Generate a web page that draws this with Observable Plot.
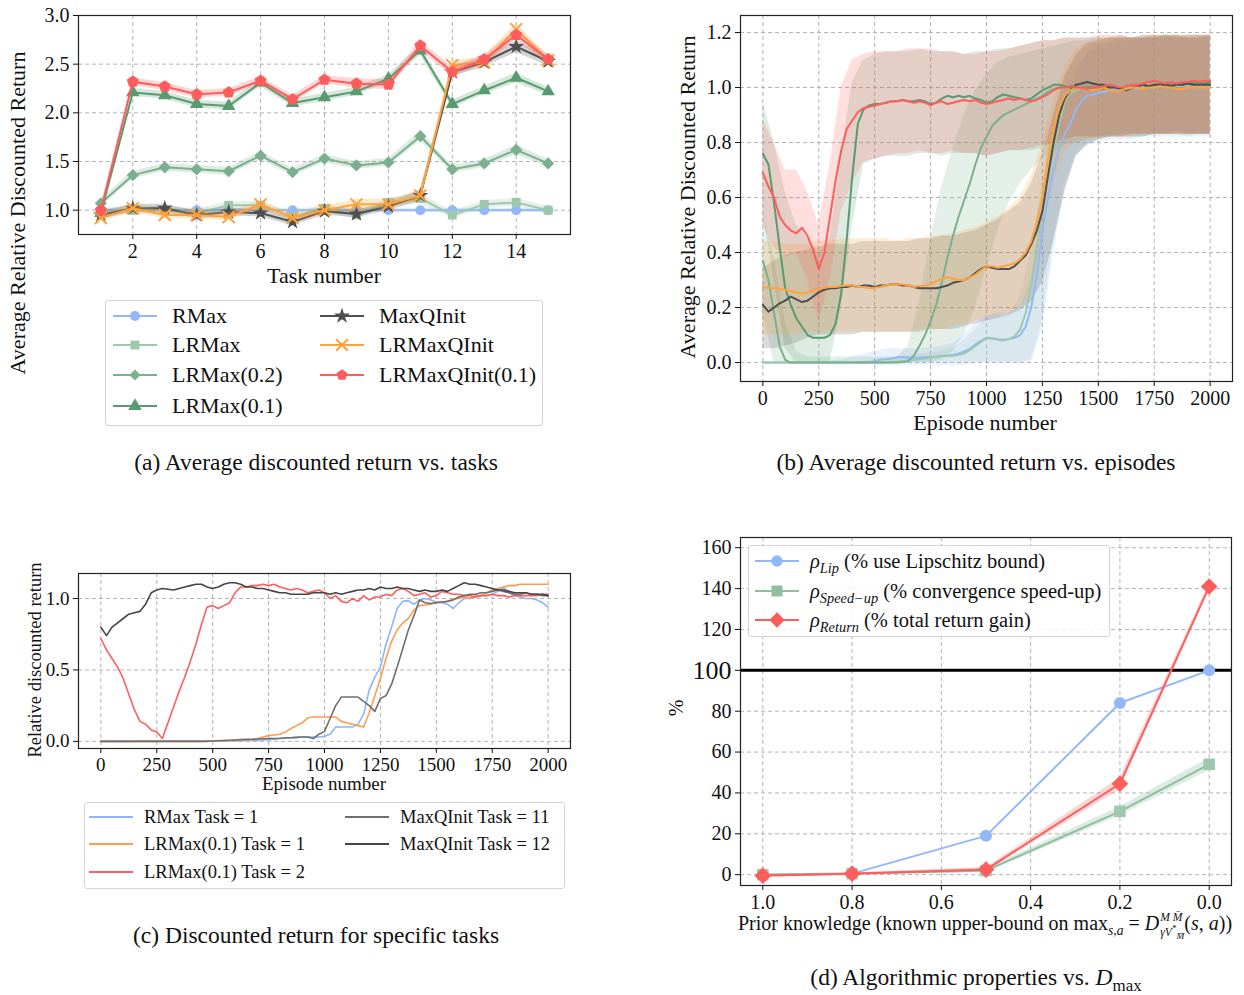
<!DOCTYPE html>
<html><head><meta charset="utf-8">
<script src="https://cdn.jsdelivr.net/npm/d3@7"></script>
<script src="https://cdn.jsdelivr.net/npm/@observablehq/plot@0.6"></script>
<style>
body{margin:0;background:#fff;font-family:"Liberation Serif","Times New Roman",serif;color:#111}
#root{position:relative;width:1244px;height:995px;overflow:hidden;background:#fff}
.abs{position:absolute}
.lbl{position:absolute;white-space:nowrap;transform:translate(-50%,-50%);line-height:1.2}
.ylbl{position:absolute;white-space:nowrap;transform:translate(-50%,-50%) rotate(-90deg)}
.legend{position:absolute;border:1.5px solid #d4d4d4;border-radius:3px;background:rgba(255,255,255,0.85);box-sizing:border-box}
.li{position:absolute;white-space:nowrap;display:flex;align-items:center;transform:translateY(-50%)}
sub,sup{line-height:0}
</style></head><body><div id="root"></div>
<script>
// ---------------- Panel (a): average discounted return vs tasks ----------------
const tasks = [1,2,3,4,5,6,7,8,9,10,11,12,13,14,15];
const aRMax        = [1.0,1.0,1.0,1.0,1.0,1.0,1.0,1.0,1.0,1.0,1.0,1.0,1.0,1.0,1.0];
const aLRMax       = [0.97,1.0,1.0,0.97,1.05,1.05,0.93,1.02,0.95,1.08,1.12,0.95,1.06,1.08,1.0];
const aLRMax02     = [1.07,1.36,1.44,1.42,1.40,1.56,1.39,1.53,1.46,1.49,1.76,1.42,1.48,1.62,1.48];
const aLRMax01     = [0.97,2.21,2.18,2.09,2.07,2.31,2.10,2.16,2.22,2.35,2.64,2.09,2.23,2.36,2.22];
const aMaxQInit    = [0.95,1.02,1.02,0.95,0.98,0.97,0.88,0.99,0.96,1.04,1.15,2.42,2.52,2.68,2.53];
const aLRMaxQInit  = [0.92,1.02,0.95,0.95,0.93,1.06,0.92,1.0,1.06,1.06,1.15,2.49,2.52,2.86,2.54];
const aLRMaxQInit01= [1.0,2.32,2.27,2.19,2.21,2.33,2.14,2.34,2.30,2.29,2.69,2.42,2.55,2.80,2.55];
const aErrRMax        = [0.02,0.02,0.02,0.02,0.02,0.02,0.02,0.02,0.02,0.02,0.02,0.02,0.02,0.02,0.02];
const aErrLRMax       = [0.04,0.04,0.04,0.04,0.04,0.04,0.04,0.04,0.04,0.04,0.05,0.04,0.04,0.04,0.04];
const aErrLRMax02     = [0.04,0.04,0.04,0.04,0.04,0.04,0.04,0.04,0.04,0.04,0.05,0.04,0.04,0.05,0.04];
const aErrLRMax01     = [0.04,0.04,0.04,0.04,0.04,0.04,0.04,0.04,0.04,0.04,0.05,0.04,0.04,0.05,0.04];
const aErrMaxQInit    = [0.04,0.04,0.04,0.04,0.04,0.04,0.04,0.04,0.04,0.04,0.06,0.05,0.05,0.06,0.05];
const aErrLRMaxQInit  = [0.04,0.04,0.04,0.04,0.04,0.04,0.04,0.04,0.05,0.05,0.05,0.05,0.05,0.06,0.05];
const aErrLRMaxQInit01= [0.04,0.04,0.04,0.04,0.04,0.04,0.04,0.04,0.05,0.05,0.05,0.05,0.05,0.05,0.05];
const aTicksX = [2,4,6,8,10,12,14];
const aTicksY = [1.0,1.5,2.0,2.5,3.0];

// ---------------- Panel (b): average discounted return vs episodes ----------------
const epL = [0,25,50,75,100,125,150,175,200,225,
  250,275,300,325,350,375,400,425,450,475,
  500,525,550,575,600,625,650,675,700,725,
  750,775,800,825,850,875,900,925,950,975,
  1000,1025,1050,1075,1100,1125,1150,1175,1200,1225,
  1250,1275,1300,1325,1350,1375,1400,1425,1450,1475,
  1500,1525,1550,1575,1600,1625,1650,1675,1700,1725,
  1750,1775,1800,1825,1850,1875,1900,1925,1950,1975,
  2000];
const bRMax = [0,0,0,0,0,0,0,0,0,0,
  0,0,0,0,0,0,0,0,0,0,
  0.005,0.01,0.012,0.015,0.018,0.02,0.018,0.017,0.018,0.02,
  0.02,0.022,0.025,0.026,0.028,0.032,0.04,0.05,0.065,0.08,
  0.09,0.088,0.085,0.083,0.085,0.09,0.10,0.13,0.20,0.32,
  0.48,0.60,0.70,0.78,0.83,0.87,0.92,0.95,0.97,0.975,
  0.98,0.985,0.99,0.99,0.99,0.995,1.0,0.995,1.0,1.0,
  1.0,1.005,1.0,1.005,1.01,1.005,1.01,1.01,1.01,1.01,
  1.01];
const bLRMax = [0,0,0,0,0,0,0,0,0,0,
  0,0,0,0,0,0,0,0,0,0,
  0,0,0,0.002,0.004,0.006,0.008,0.01,0.012,0.015,
  0.018,0.02,0.022,0.024,0.025,0.028,0.032,0.045,0.06,0.075,
  0.088,0.087,0.083,0.08,0.085,0.095,0.12,0.18,0.28,0.42,
  0.56,0.67,0.77,0.87,0.95,0.98,0.99,1.0,1.0,0.995,
  1.0,1.0,0.995,1.0,1.005,1.0,1.0,1.005,1.0,1.005,
  1.01,1.005,1.01,1.01,1.005,1.01,1.01,1.015,1.01,1.01,
  1.01];
const bLRMax02 = [0.37,0.30,0.18,0.06,0.01,0,0,0,0,0,
  0,0,0,0,0,0,0,0,0,0,
  0,0,0,0,0,0.002,0.005,0.025,0.06,0.10,
  0.15,0.21,0.29,0.38,0.46,0.53,0.59,0.65,0.72,0.78,
  0.82,0.86,0.88,0.90,0.91,0.92,0.93,0.94,0.95,0.96,
  0.97,0.985,0.995,1.0,1.0,1.005,1.0,1.0,1.005,1.0,
  1.0,1.005,1.01,1.005,1.0,1.0,1.005,1.01,1.01,1.005,
  1.01,1.015,1.01,1.01,1.015,1.01,1.015,1.02,1.015,1.015,
  1.015];
const bLRMax01 = [0.76,0.72,0.58,0.42,0.27,0.21,0.16,0.13,0.10,0.09,
  0.09,0.09,0.10,0.14,0.25,0.45,0.68,0.87,0.92,0.935,
  0.94,0.94,0.945,0.95,0.95,0.955,0.95,0.95,0.955,0.95,
  0.94,0.945,0.96,0.97,0.965,0.97,0.965,0.97,0.96,0.955,
  0.945,0.95,0.965,0.975,0.97,0.965,0.96,0.955,0.96,0.975,
  0.99,1.0,1.01,1.01,1.005,1.0,1.005,1.0,1.0,1.0,
  1.0,0.995,1.0,1.005,0.995,0.99,1.0,1.005,1.01,1.0,
  1.01,1.01,1.015,1.01,1.015,1.01,1.02,1.015,1.015,1.015,
  1.02];
const bMaxQInit = [0.21,0.185,0.20,0.215,0.225,0.24,0.23,0.22,0.225,0.24,
  0.255,0.265,0.27,0.27,0.275,0.275,0.28,0.275,0.28,0.28,
  0.275,0.28,0.28,0.285,0.285,0.28,0.28,0.275,0.27,0.27,
  0.27,0.27,0.275,0.28,0.29,0.295,0.30,0.31,0.325,0.34,
  0.35,0.345,0.34,0.34,0.34,0.35,0.37,0.39,0.43,0.48,
  0.55,0.68,0.80,0.90,0.96,0.99,1.01,1.015,1.02,1.015,
  1.01,1.01,1.0,1.0,0.995,0.99,1.0,1.005,1.01,1.005,
  1.01,1.01,1.01,1.005,1.01,1.01,1.015,1.01,1.01,1.01,
  1.01];
const bLRMaxQInit = [0.275,0.272,0.27,0.268,0.265,0.26,0.255,0.25,0.255,0.265,
  0.27,0.272,0.275,0.275,0.278,0.28,0.28,0.275,0.275,0.27,
  0.272,0.275,0.28,0.285,0.285,0.285,0.28,0.275,0.278,0.28,
  0.285,0.295,0.305,0.31,0.305,0.30,0.30,0.31,0.32,0.335,
  0.35,0.35,0.345,0.35,0.355,0.36,0.375,0.40,0.44,0.51,
  0.60,0.74,0.85,0.93,0.97,0.99,1.0,1.0,0.995,0.99,
  0.995,1.0,0.99,0.985,0.99,0.995,1.0,1.0,0.995,1.0,
  1.0,1.005,1.0,1.0,0.995,0.995,1.0,1.0,1.0,1.0,
  1.0];
const bLRMaxQInit01 = [0.69,0.64,0.60,0.53,0.50,0.48,0.47,0.49,0.46,0.41,
  0.34,0.40,0.53,0.66,0.77,0.85,0.88,0.91,0.925,0.93,
  0.935,0.94,0.945,0.95,0.95,0.955,0.95,0.945,0.95,0.945,
  0.935,0.945,0.95,0.94,0.945,0.95,0.955,0.95,0.955,0.945,
  0.94,0.945,0.95,0.955,0.96,0.955,0.96,0.955,0.95,0.955,
  0.965,0.975,0.99,1.0,1.0,1.005,1.0,1.0,0.995,1.0,
  1.0,1.005,1.01,1.005,1.0,1.005,1.01,1.01,1.015,1.02,
  1.025,1.02,1.015,1.02,1.015,1.02,1.02,1.025,1.02,1.025,
  1.025];
// confidence bands (every 50 episodes)
const epB = [0,50,100,150,200,250,300,350,400,450,
  500,550,600,650,700,750,800,850,900,950,
  1000,1050,1100,1150,1200,1250,1300,1350,1400,1450,
  1500,1550,1600,1650,1700,1750,1800,1850,1900,1950,
  2000];
const bRMaxLo = [0,0,0,0,0,0,0,0,0,0,
  -0.01,-0.01,-0.01,-0.01,-0.01,-0.01,-0.01,-0.01,-0.01,0,
  0,0,0,0,0,0.12,0.40,0.63,0.75,0.79,
  0.80,0.81,0.81,0.81,0.82,0.82,0.82,0.82,0.82,0.82,
  0.82];
const bRMaxHi = [0,0,0,0,0,0,0.005,0.01,0.02,0.03,
  0.04,0.05,0.05,0.05,0.05,0.055,0.06,0.07,0.10,0.14,
  0.17,0.18,0.18,0.20,0.30,0.52,0.78,0.95,1.06,1.12,
  1.15,1.16,1.17,1.17,1.18,1.18,1.18,1.18,1.18,1.18,
  1.18];
const bLRMaxLo = [0,0,0,0,0,0,0,0,0,0,
  0,0,0,0,0,0,0,0,0,0,
  0,0,0,0,0.01,0.15,0.45,0.65,0.76,0.80,
  0.81,0.82,0.82,0.82,0.82,0.83,0.83,0.83,0.82,0.83,
  0.83];
const bLRMaxHi = [0,0,0,0,0,0,0,0,0,0.005,
  0.01,0.015,0.02,0.025,0.03,0.035,0.04,0.05,0.08,0.12,
  0.16,0.17,0.17,0.24,0.40,0.66,0.90,1.04,1.11,1.15,
  1.16,1.17,1.18,1.18,1.18,1.18,1.19,1.18,1.18,1.18,
  1.18];
const bLRMax02Lo = [0.18,0,0,0,0,0,0,0,0,0,
  0,0,0,0,0,0,0.01,0.04,0.10,0.20,
  0.34,0.48,0.58,0.65,0.70,0.74,0.77,0.79,0.80,0.81,
  0.82,0.82,0.82,0.83,0.83,0.83,0.83,0.83,0.83,0.83,
  0.83];
const bLRMax02Hi = [0.55,0.38,0.15,0.04,0.02,0.02,0.02,0.02,0.02,0.02,
  0.02,0.02,0.02,0.06,0.22,0.45,0.64,0.78,0.90,0.99,
  1.05,1.09,1.11,1.12,1.13,1.14,1.15,1.16,1.17,1.17,
  1.18,1.18,1.18,1.18,1.18,1.19,1.19,1.18,1.19,1.19,
  1.19];
const bLRMax01Lo = [0.55,0.30,0.05,0,0,0,0,0.20,0.50,0.72,
  0.74,0.75,0.75,0.75,0.76,0.76,0.75,0.76,0.76,0.76,
  0.75,0.76,0.77,0.77,0.77,0.78,0.80,0.81,0.82,0.82,
  0.82,0.82,0.83,0.83,0.83,0.83,0.83,0.84,0.83,0.83,
  0.83];
const bLRMax01Hi = [0.95,0.80,0.62,0.50,0.45,0.40,0.45,0.75,1.02,1.10,
  1.12,1.13,1.13,1.13,1.14,1.13,1.13,1.13,1.12,1.13,
  1.13,1.14,1.14,1.15,1.16,1.17,1.17,1.18,1.18,1.18,
  1.18,1.18,1.19,1.18,1.19,1.19,1.19,1.19,1.19,1.19,
  1.19];
const bMaxQInitLo = [0.05,0.05,0.06,0.07,0.09,0.10,0.10,0.10,0.10,0.11,
  0.11,0.11,0.11,0.11,0.11,0.12,0.12,0.12,0.13,0.14,
  0.15,0.16,0.17,0.19,0.22,0.29,0.44,0.62,0.75,0.79,
  0.81,0.82,0.82,0.82,0.82,0.83,0.83,0.83,0.83,0.83,
  0.83];
const bMaxQInitHi = [0.34,0.37,0.39,0.40,0.41,0.42,0.43,0.43,0.43,0.44,
  0.44,0.44,0.44,0.44,0.45,0.45,0.46,0.46,0.47,0.48,
  0.50,0.52,0.55,0.58,0.65,0.76,0.90,1.04,1.12,1.16,
  1.17,1.18,1.18,1.18,1.18,1.18,1.19,1.19,1.18,1.18,
  1.19];
const bLRMaxQInitLo = [0.10,0.10,0.10,0.10,0.11,0.11,0.11,0.11,0.11,0.11,
  0.11,0.11,0.11,0.11,0.12,0.12,0.12,0.13,0.14,0.15,
  0.16,0.17,0.18,0.20,0.26,0.45,0.66,0.77,0.80,0.81,
  0.81,0.82,0.82,0.82,0.83,0.83,0.83,0.83,0.83,0.83,
  0.83];
const bLRMaxQInitHi = [0.44,0.44,0.43,0.43,0.43,0.44,0.44,0.45,0.45,0.45,
  0.45,0.45,0.44,0.45,0.45,0.46,0.46,0.47,0.48,0.49,
  0.51,0.53,0.56,0.60,0.68,0.80,0.95,1.08,1.14,1.16,
  1.17,1.18,1.18,1.18,1.18,1.19,1.19,1.19,1.18,1.19,
  1.19];
const bLRMaxQInit01Lo = [0.50,0.42,0.38,0.40,0.30,0.15,0.30,0.55,0.65,0.73,
  0.74,0.75,0.76,0.76,0.77,0.76,0.76,0.77,0.76,0.76,
  0.75,0.76,0.77,0.77,0.78,0.79,0.80,0.81,0.82,0.82,
  0.82,0.83,0.82,0.83,0.83,0.83,0.83,0.83,0.83,0.83,
  0.83];
const bLRMaxQInit01Hi = [0.88,0.80,0.70,0.70,0.62,0.50,0.72,1.00,1.10,1.12,
  1.13,1.13,1.13,1.14,1.14,1.14,1.13,1.13,1.12,1.12,
  1.13,1.13,1.14,1.15,1.16,1.17,1.17,1.18,1.18,1.18,
  1.19,1.19,1.19,1.18,1.19,1.19,1.18,1.19,1.19,1.19,
  1.19];
const epTicks = [0,250,500,750,1000,1250,1500,1750,2000];
const bTicksY = [0,0.2,0.4,0.6,0.8,1.0,1.2];

// ---------------- Panel (c): discounted return for specific tasks ----------------
const cRMaxT1 = [0,0,0,0,0,0,0.002,0.002,0.003,0.003,
  0.003,0.003,0.003,0.003,0.002,0.002,0.002,0.002,0.002,0.002,
  0.002,0.003,0.003,0.004,0.005,0.005,0.006,0.006,0.008,0.01,
  0.012,0.015,0.02,0.022,0.025,0.028,0.03,0.03,0.03,0.03,
  0.035,0.05,0.10,0.10,0.10,0.10,0.12,0.19,0.36,0.45,
  0.52,0.68,0.80,0.93,0.98,0.985,0.96,0.99,1.0,0.99,
  0.975,0.97,0.96,0.93,0.97,1.0,1.0,1.01,1.02,1.02,
  1.03,1.05,1.08,1.04,1.02,1.01,1.0,1.0,0.99,0.97,
  0.94];
const cLRMax01T1 = [0,0,0,0,0,0,0,0,0,0,
  0,0,0,0,0,0,0,0,0,0.002,
  0.003,0.004,0.005,0.006,0.007,0.008,0.01,0.012,0.02,0.03,
  0.04,0.045,0.05,0.065,0.09,0.11,0.13,0.165,0.17,0.17,
  0.17,0.17,0.17,0.14,0.13,0.12,0.11,0.10,0.20,0.32,
  0.44,0.58,0.70,0.78,0.83,0.86,0.92,0.95,0.955,0.96,
  0.975,0.975,0.98,0.995,1.0,1.01,1.0,1.02,1.02,1.04,
  1.06,1.07,1.08,1.09,1.09,1.10,1.10,1.10,1.10,1.10,
  1.10];
const cLRMax01T2 = [0.72,0.64,0.58,0.52,0.44,0.33,0.22,0.14,0.12,0.08,
  0.065,0.02,0.13,0.24,0.35,0.45,0.56,0.68,0.82,0.94,
  0.95,0.93,0.95,0.97,1.04,1.08,1.08,1.09,1.09,1.10,
  1.09,1.10,1.08,1.07,1.06,1.07,1.06,1.04,1.05,1.06,
  1.04,1.00,1.02,0.98,0.97,1.00,0.98,1.02,0.99,1.01,
  1.01,1.03,1.02,1.06,1.07,1.05,1.02,1.03,1.04,1.01,
  1.02,1.05,1.04,1.03,1.03,1.02,1.02,1.01,1.02,1.02,
  1.03,1.02,1.02,1.01,1.02,1.02,1.02,1.02,1.02,1.03,
  1.03];
const cMaxQInitT11 = [0,0,0,0,0,0,0,0,0,0,
  0,0,0,0,0,0,0,0,0,0,
  0.002,0.004,0.006,0.008,0.01,0.012,0.014,0.015,0.016,0.018,
  0.02,0.02,0.022,0.025,0.025,0.028,0.03,0.03,0.02,0.05,
  0.07,0.16,0.25,0.31,0.31,0.31,0.31,0.28,0.25,0.21,
  0.30,0.32,0.40,0.52,0.65,0.78,0.88,0.99,0.97,0.965,
  0.97,0.975,0.98,0.99,1.01,1.02,1.03,1.03,1.04,1.04,
  1.05,1.06,1.05,1.04,1.03,1.03,1.04,1.03,1.03,1.02,
  1.02];
const cMaxQInitT12 = [0.80,0.74,0.80,0.83,0.86,0.89,0.90,0.91,0.96,1.04,
  1.06,1.07,1.065,1.06,1.07,1.08,1.09,1.10,1.10,1.08,
  1.07,1.08,1.10,1.11,1.11,1.10,1.08,1.08,1.07,1.07,
  1.06,1.05,1.04,1.04,1.03,1.03,1.03,1.03,1.04,1.04,
  1.04,1.03,1.04,1.03,1.04,1.05,1.06,1.06,1.07,1.06,
  1.08,1.07,1.07,1.08,1.07,1.07,1.06,1.05,1.06,1.05,
  1.05,1.06,1.05,1.07,1.09,1.11,1.10,1.10,1.09,1.08,
  1.07,1.06,1.06,1.05,1.04,1.04,1.04,1.03,1.03,1.03,
  1.02];
const cTicksY = [0,0.5,1.0];

// ---------------- Panel (d): algorithmic properties vs Dmax ----------------
const dPrior   = [1.0,0.8,0.5,0.2,0.0];
const dLip     = [0,0.5,19,84,100];
const dSpeedUp = [0,0.5,2,31,54];
const dReturn  = [-0.5,0.5,2.5,44.5,141];
const dSpeedUpErr = [0.5,0.5,1,2.2,3];
const dReturnErr  = [0.5,0.5,1,2.8,1.5];
const dTicksX = [1.0,0.8,0.6,0.4,0.2,0.0];
const dTicksY = [0,20,40,60,80,120,140,160];
const dGridY  = [0,20,40,60,80,100,120,140,160];

// ---------------- styling ----------------
const COL = {rmax:"#92b8f8", lrmax:"#9dc8ae", lrmax02:"#7ab08e", lrmax01:"#589b70",
  maxq:"#4f4f4f", lrmaxq:"#ffa23c", lrmaxq01:"#ff5c5c"};
const FONT = '"Liberation Serif","Times New Roman",serif';
const pentagon = {draw(ctx, size){
  const R = Math.sqrt(size / 2.378);
  for (let k = 0; k < 5; k++) {
    const a = -Math.PI/2 + k*2*Math.PI/5, x = R*Math.cos(a), y = R*Math.sin(a);
    if (k) ctx.lineTo(x, y); else ctx.moveTo(x, y);
  }
  ctx.closePath();
}};
const root = document.getElementById("root");
function place(el, left, top){ const d=document.createElement("div"); d.className="abs"; d.style.left=left+"px"; d.style.top=top+"px"; d.appendChild(el); root.appendChild(d); return d; }
function html(cls, x, y, inner, size, extra){ const d=document.createElement("div"); d.className=cls; d.style.left=x+"px"; d.style.top=y+"px"; d.style.fontSize=size+"px"; if(extra) d.style.cssText+=extra; d.innerHTML=inner; root.appendChild(d); return d; }
const gridStyle = {stroke:"#b4b4b4", strokeOpacity:1, strokeDasharray:"4,3", strokeWidth:1};
function baseStyle(fs){ return {fontFamily:FONT, fontSize:fs+"px", color:"#111", background:"transparent", overflow:"visible"}; }
const fmtInt = d3.format("d");

// ---------------- draw (a) ----------------
const seriesA = [
  {v:aRMax, e:aErrRMax, c:COL.rmax, sym:"circle", r:5},
  {v:aLRMax, e:aErrLRMax, c:COL.lrmax, sym:"square", r:5},
  {v:aLRMax02, e:aErrLRMax02, c:COL.lrmax02, sym:"diamond2", r:5.5},
  {v:aLRMax01, e:aErrLRMax01, c:COL.lrmax01, sym:"triangle", r:5},
  {v:aMaxQInit, e:aErrMaxQInit, c:COL.maxq, sym:"star", r:5},
  {v:aLRMaxQInit, e:aErrLRMaxQInit, c:COL.lrmaxq, sym:"times", r:5.5, hollow:true},
  {v:aLRMaxQInit01, e:aErrLRMaxQInit01, c:COL.lrmaxq01, sym:pentagon, r:5.5}
];
const marksA = [Plot.gridX(aTicksX, gridStyle), Plot.gridY(aTicksY, gridStyle)];
for (const s of seriesA) {
  marksA.push(Plot.areaY(tasks, {x:d=>d, y1:(d,i)=>s.v[i]-s.e[i], y2:(d,i)=>s.v[i]+s.e[i], fill:s.c, fillOpacity:0.25}));
  marksA.push(Plot.line(tasks, {x:d=>d, y:(d,i)=>s.v[i], stroke:s.c, strokeWidth:2}));
  marksA.push(s.hollow
    ? Plot.dot(tasks, {x:d=>d, y:(d,i)=>s.v[i], symbol:s.sym, r:s.r, stroke:s.c, fill:"none", strokeWidth:2})
    : Plot.dot(tasks, {x:d=>d, y:(d,i)=>s.v[i], symbol:s.sym, r:s.r, fill:s.c, stroke:"none"}));
}
marksA.push(Plot.frame({stroke:"#222", strokeWidth:1.2}));
marksA.push(Plot.axisX(aTicksX, {tickSize:5, tickPadding:4, label:null}));
marksA.push(Plot.axisY(aTicksY, {tickSize:5, tickPadding:4, label:null, tickFormat:d3.format(".1f")}));
place(Plot.plot({width:600, height:300, marginLeft:78, marginRight:30, marginTop:15, marginBottom:66,
  style:baseStyle(20), x:{domain:[0.3,15.7]}, y:{domain:[0.75,3.0]}, marks:marksA}), 0, 0);

// ---------------- draw (b) ----------------
const seriesB = [
  {v:bRMax, lo:bRMaxLo, hi:bRMaxHi, c:COL.rmax},
  {v:bLRMax, lo:bLRMaxLo, hi:bLRMaxHi, c:COL.lrmax},
  {v:bLRMax02, lo:bLRMax02Lo, hi:bLRMax02Hi, c:COL.lrmax02},
  {v:bLRMax01, lo:bLRMax01Lo, hi:bLRMax01Hi, c:COL.lrmax01},
  {v:bMaxQInit, lo:bMaxQInitLo, hi:bMaxQInitHi, c:COL.maxq},
  {v:bLRMaxQInit, lo:bLRMaxQInitLo, hi:bLRMaxQInitHi, c:COL.lrmaxq},
  {v:bLRMaxQInit01, lo:bLRMaxQInit01Lo, hi:bLRMaxQInit01Hi, c:COL.lrmaxq01}
];
const marksB = [Plot.gridX(epTicks, gridStyle), Plot.gridY(bTicksY, gridStyle)];
for (const s of seriesB) marksB.push(Plot.areaY(epB, {x:d=>d, y1:(d,i)=>s.lo[i], y2:(d,i)=>s.hi[i], fill:s.c, fillOpacity:0.2}));
for (const s of seriesB) marksB.push(Plot.line(epL, {x:d=>d, y:(d,i)=>s.v[i], stroke:s.c, strokeWidth:2}));
marksB.push(Plot.frame({stroke:"#222", strokeWidth:1.2}));
marksB.push(Plot.axisX(epTicks, {tickSize:5, tickPadding:4, label:null, tickFormat:fmtInt}));
marksB.push(Plot.axisY(bTicksY, {tickSize:5, tickPadding:4, label:null, tickFormat:d3.format(".1f")}));
place(Plot.plot({width:624, height:440, marginLeft:120, marginRight:12, marginTop:15, marginBottom:59,
  style:baseStyle(20), x:{domain:[-100,2100]}, y:{domain:[-0.069,1.262]}, marks:marksB}), 620, 0);

// ---------------- draw (c) ----------------
const seriesC = [
  {v:cRMaxT1, c:"#8cb5fa"},
  {v:cLRMax01T1, c:"#ff9c52"},
  {v:cLRMax01T2, c:"#ff5e5e"},
  {v:cMaxQInitT11, c:"#6f6f6f"},
  {v:cMaxQInitT12, c:"#454545"}
];
const marksC = [Plot.gridX(epTicks, gridStyle), Plot.gridY(cTicksY, gridStyle)];
for (const s of seriesC) marksC.push(Plot.line(epL, {x:d=>d, y:(d,i)=>s.v[i], stroke:s.c, strokeWidth:1.6}));
marksC.push(Plot.frame({stroke:"#222", strokeWidth:1.2}));
marksC.push(Plot.axisX(epTicks, {tickSize:5, tickPadding:4, label:null, tickFormat:fmtInt}));
marksC.push(Plot.axisY(cTicksY, {tickSize:5, tickPadding:4, label:null, tickFormat:d3.format(".1f")}));
place(Plot.plot({width:600, height:240, marginLeft:78, marginRight:30, marginTop:13, marginBottom:52,
  style:baseStyle(19), x:{domain:[-100,2100]}, y:{domain:[-0.05,1.175]}, marks:marksC}), 0, 560);

// ---------------- draw (d) ----------------
const marksD = [Plot.gridX(dTicksX, gridStyle), Plot.gridY(dGridY, gridStyle),
  Plot.ruleY([100], {stroke:"#000", strokeWidth:3}),
  Plot.line(dPrior, {x:d=>d, y:(d,i)=>dLip[i], stroke:COL.rmax, strokeWidth:2}),
  Plot.dot(dPrior, {x:d=>d, y:(d,i)=>dLip[i], r:6, fill:COL.rmax, stroke:"none"}),
  Plot.areaY(dPrior, {x:d=>d, y1:(d,i)=>dSpeedUp[i]-dSpeedUpErr[i], y2:(d,i)=>dSpeedUp[i]+dSpeedUpErr[i], fill:COL.lrmax, fillOpacity:0.35}),
  Plot.line(dPrior, {x:d=>d, y:(d,i)=>dSpeedUp[i], stroke:"#8fbf9f", strokeWidth:2}),
  Plot.dot(dPrior, {x:d=>d, y:(d,i)=>dSpeedUp[i], symbol:"square", r:6.5, fill:"#9dc8ae", stroke:"none"}),
  Plot.areaY(dPrior, {x:d=>d, y1:(d,i)=>dReturn[i]-dReturnErr[i], y2:(d,i)=>dReturn[i]+dReturnErr[i], fill:COL.lrmaxq01, fillOpacity:0.25}),
  Plot.line(dPrior, {x:d=>d, y:(d,i)=>dReturn[i], stroke:COL.lrmaxq01, strokeWidth:2}),
  Plot.dot(dPrior, {x:d=>d, y:(d,i)=>dReturn[i], symbol:"diamond2", r:7.5, fill:COL.lrmaxq01, stroke:"none"}),
  Plot.frame({stroke:"#222", strokeWidth:1.2}),
  Plot.axisX(dTicksX, {tickSize:5, tickPadding:4, label:null, tickFormat:d3.format(".1f")}),
  Plot.axisY(dTicksY, {tickSize:5, tickPadding:4, label:null}),
  Plot.axisY([100], {tickSize:5, tickPadding:4, label:null, fontSize:26})
];
place(Plot.plot({width:624, height:420, marginLeft:120, marginRight:13, marginTop:17, marginBottom:55,
  style:baseStyle(20), x:{domain:[1.05,-0.05]}, y:{domain:[-5.3,165]}, marks:marksD}), 620, 520);

// ---------------- axis labels and captions ----------------
html("ylbl", 18, 213, "Average Relative Discounted Return", 22);
html("lbl", 324, 276, "Task number", 22);
html("ylbl", 688, 197, "Average Relative Discounted Return", 22);
html("lbl", 985, 423, "Episode number", 22);
html("ylbl", 35, 660, "Relative discounted return", 18.5);
html("lbl", 324, 784, "Episode number", 19);
html("ylbl", 676, 708, "%", 20);
html("lbl", 985, 925, 'Prior knowledge (known upper-bound on max<sub style="font-size:0.68em"><i>s,a</i></sub> = <i>D</i><span style="display:inline-flex;flex-direction:column;vertical-align:middle;font-size:0.58em;line-height:1.3;margin-left:1px"><i>M M&#772;</i><span><i>&gamma;V</i><sup style="font-size:0.8em">*</sup><sub style="font-size:0.8em"><i>M&#772;</i></sub></span></span>(<i>s</i>, <i>a</i>))', 20);
html("lbl", 316, 462, "(a) Average discounted return vs. tasks", 23.5);
html("lbl", 976, 462, "(b) Average discounted return vs. episodes", 23.5);
html("lbl", 316, 935, "(c) Discounted return for specific tasks", 23.5);
html("lbl", 976, 977, '(d) Algorithmic properties vs. <i>D</i><sub style="font-size:0.72em">max</sub>', 23.5);

// ---------------- legends ----------------
function sampleSvg(color, sym, size, hollow, withMarker){
  const w = 44, h = 18;
  let s = `<svg width="${w}" height="${h}" style="overflow:visible"><line x1="0" x2="${w}" y1="${h/2}" y2="${h/2}" stroke="${color}" stroke-width="2"/>`;
  if (withMarker) {
    const p = d3.symbol().type(sym).size(size)();
    s += hollow ? `<path transform="translate(${w/2},${h/2})" d="${p}" fill="none" stroke="${color}" stroke-width="2"/>`
                : `<path transform="translate(${w/2},${h/2})" d="${p}" fill="${color}"/>`;
  }
  return s + "</svg>";
}
function legendBox(x, y, w, h){ const d=document.createElement("div"); d.className="legend"; d.style.left=x+"px"; d.style.top=y+"px"; d.style.width=w+"px"; d.style.height=h+"px"; root.appendChild(d); }
function legendItem(x, y, svg, textX, label, fs){
  const a=document.createElement("div"); a.className="li"; a.style.left=x+"px"; a.style.top=y+"px"; a.innerHTML=svg; root.appendChild(a);
  const b=document.createElement("div"); b.className="li"; b.style.left=textX+"px"; b.style.top=y+"px"; b.style.fontSize=fs+"px"; b.innerHTML=label; root.appendChild(b);
}
// legend (a)
const namesA = ["RMax","LRMax","LRMax(0.2)","LRMax(0.1)","MaxQInit","LRMaxQInit","LRMaxQInit(0.1)"];
const symsA = [d3.symbolCircle, d3.symbolSquare, d3.symbolDiamond2, d3.symbolTriangle, d3.symbolStar, d3.symbolTimes, pentagon];
legendBox(105, 300, 438, 126);
namesA.forEach((n, i) => {
  const col = i < 4 ? 0 : 1, row = i < 4 ? i : i - 4;
  const y = [316, 345, 375, 406][row];
  legendItem(col ? 320 : 113, y, sampleSvg(seriesA[i].c, symsA[i], i===5?90:80, i===5, true), col ? 379 : 172, n, 22);
});
// legend (c)
const namesC = ["RMax Task = 1","LRMax(0.1) Task = 1","LRMax(0.1) Task = 2","MaxQInit Task = 11","MaxQInit Task = 12"];
legendBox(84, 802, 481, 87);
namesC.forEach((n, i) => {
  const col = i < 3 ? 0 : 1, row = i < 3 ? i : i - 3;
  const y = [817, 844, 872][row];
  legendItem(col ? 345 : 89, y, sampleSvg(seriesC[i].c, null, 0, false, false), col ? 400 : 144, n, 18.5);
});
// legend (d)
legendBox(748, 545, 362, 92);
const labD = ['<i>&rho;<sub style="font-size:0.7em">Lip</sub></i>&nbsp;(% use Lipschitz bound)',
  '<i>&rho;<sub style="font-size:0.7em">Speed&minus;up</sub></i>&nbsp;(% convergence speed-up)',
  '<i>&rho;<sub style="font-size:0.7em">Return</sub></i>&nbsp;(% total return gain)'];
const colD = [COL.rmax, "#8fbf9f", COL.lrmaxq01], symD = [d3.symbolCircle, d3.symbolSquare, d3.symbolDiamond2], sizeD=[100,120,150];
labD.forEach((l, i) => legendItem(755, [561, 591, 620][i], sampleSvg(colD[i], symD[i], sizeD[i], false, true), 810, l, 20.5));
</script></body></html>
